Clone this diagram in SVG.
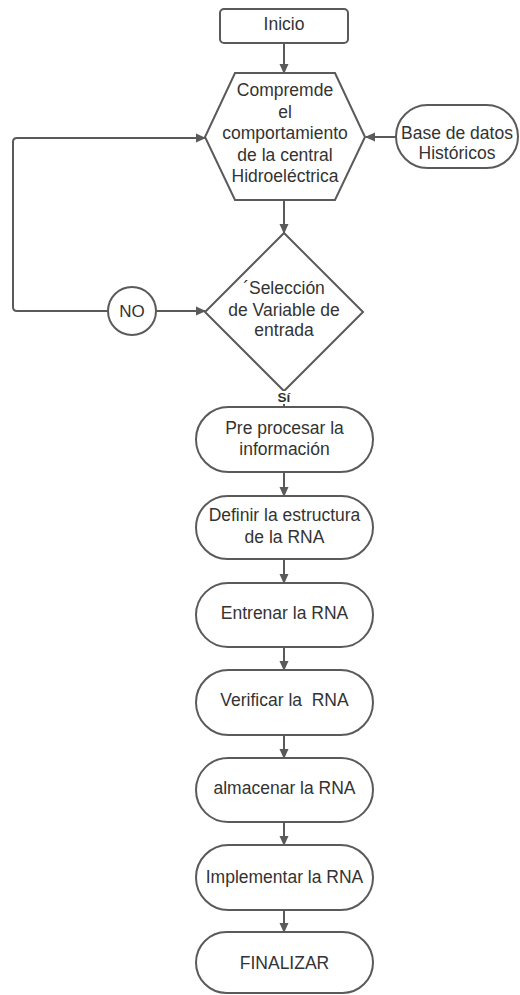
<svg xmlns="http://www.w3.org/2000/svg" width="520" height="995" viewBox="0 0 520 995">
<style>
.n{fill:#fff;stroke:#5a5a5a;stroke-width:2}
.t{font-family:"Liberation Sans",Arial,sans-serif;font-size:17.5px;fill:#333;text-anchor:middle}
.c{fill:none;stroke:#5a5a5a;stroke-width:2}
.a{marker-end:url(#ah)}
</style>
<defs>
<marker id="ah" markerWidth="10" markerHeight="10" refX="9" refY="5" orient="auto" markerUnits="userSpaceOnUse">
<path d="M0,0.5 L10,5 L0,9.5 Z" fill="#5a5a5a"/>
</marker>
</defs>
<g id="connectors">
<path class="c a" d="M284,43 V73"/>
<path class="c a" d="M284,200 V233"/>
<path class="c a" d="M396,137 H366"/>
<path class="c a" d="M108,311 H17 Q13,311 13,307 V142 Q13,138 17,138 H205"/>
<path class="c a" d="M156,311 H205"/>
<path class="c" d="M284,391 V407"/>
<path class="c a" d="M284,472 V496"/>
<path class="c a" d="M284,559 V583"/>
<path class="c a" d="M284,647 V670"/>
<path class="c a" d="M284,735 V758"/>
<path class="c a" d="M284,822 V845"/>
<path class="c a" d="M284,910 V932"/>
</g>
<g id="inicio">
<rect class="n" x="220" y="9" width="128" height="34" rx="4"/>
<text class="t" x="284" y="30">Inicio</text>
</g>
<g id="comprende">
<polygon class="n" points="235,73 335,73 365,137 335,200 235,200 205,137"/>
<text class="t" x="285" y="96">Compremde</text>
<text class="t" x="285" y="118">el</text>
<text class="t" x="285" y="139">comportamiento</text>
<text class="t" x="285" y="161">de la central</text>
<text class="t" x="285" y="182">Hidroeléctrica</text>
</g>
<g id="base">
<rect class="n" x="396" y="105" width="122" height="63" rx="31.5"/>
<text class="t" x="457" y="139">Base de datos</text>
<text class="t" x="457" y="159">Históricos</text>
</g>
<g id="no">
<circle class="n" cx="132" cy="311" r="24"/>
<text class="t" x="132" y="317" style="font-size:17px">NO</text>
</g>
<g id="seleccion">
<polygon class="n" points="284,233 363,312 284,391 205,312"/>
<text class="t" x="284" y="294">´Selección</text>
<text class="t" x="284" y="316">de Variable de</text>
<text class="t" x="284" y="336">entrada</text>
</g>
<g id="si">
<rect x="274" y="391" width="20" height="13" fill="#fff"/>
<text class="t" x="284" y="402" style="font-size:13.5px;font-weight:bold">Sí</text>
</g>
<g id="preprocesar">
<rect class="n" x="196" y="407" width="177" height="65" rx="32.5"/>
<text class="t" x="284.5" y="434">Pre procesar la</text>
<text class="t" x="284.5" y="455">información</text>
</g>
<g id="definir">
<rect class="n" x="196" y="496" width="177" height="63" rx="31.5"/>
<text class="t" x="284.5" y="521">Definir la estructura</text>
<text class="t" x="284.5" y="543">de la RNA</text>
</g>
<g id="entrenar">
<rect class="n" x="196" y="583" width="177" height="64" rx="32"/>
<text class="t" x="284.5" y="619">Entrenar la RNA</text>
</g>
<g id="verificar">
<rect class="n" x="196" y="670" width="177" height="65" rx="32.5"/>
<text class="t" x="284.5" y="706" style="white-space:pre">Verificar la  RNA</text>
</g>
<g id="almacenar">
<rect class="n" x="196" y="758" width="177" height="64" rx="32"/>
<text class="t" x="284.5" y="794">almacenar la RNA</text>
</g>
<g id="implementar">
<rect class="n" x="196" y="845" width="177" height="65" rx="32.5"/>
<text class="t" x="284.5" y="883">Implementar la RNA</text>
</g>
<g id="finalizar">
<rect class="n" x="196" y="932" width="177" height="61" rx="30.5"/>
<text class="t" x="284.5" y="969">FINALIZAR</text>
</g>
</svg>
